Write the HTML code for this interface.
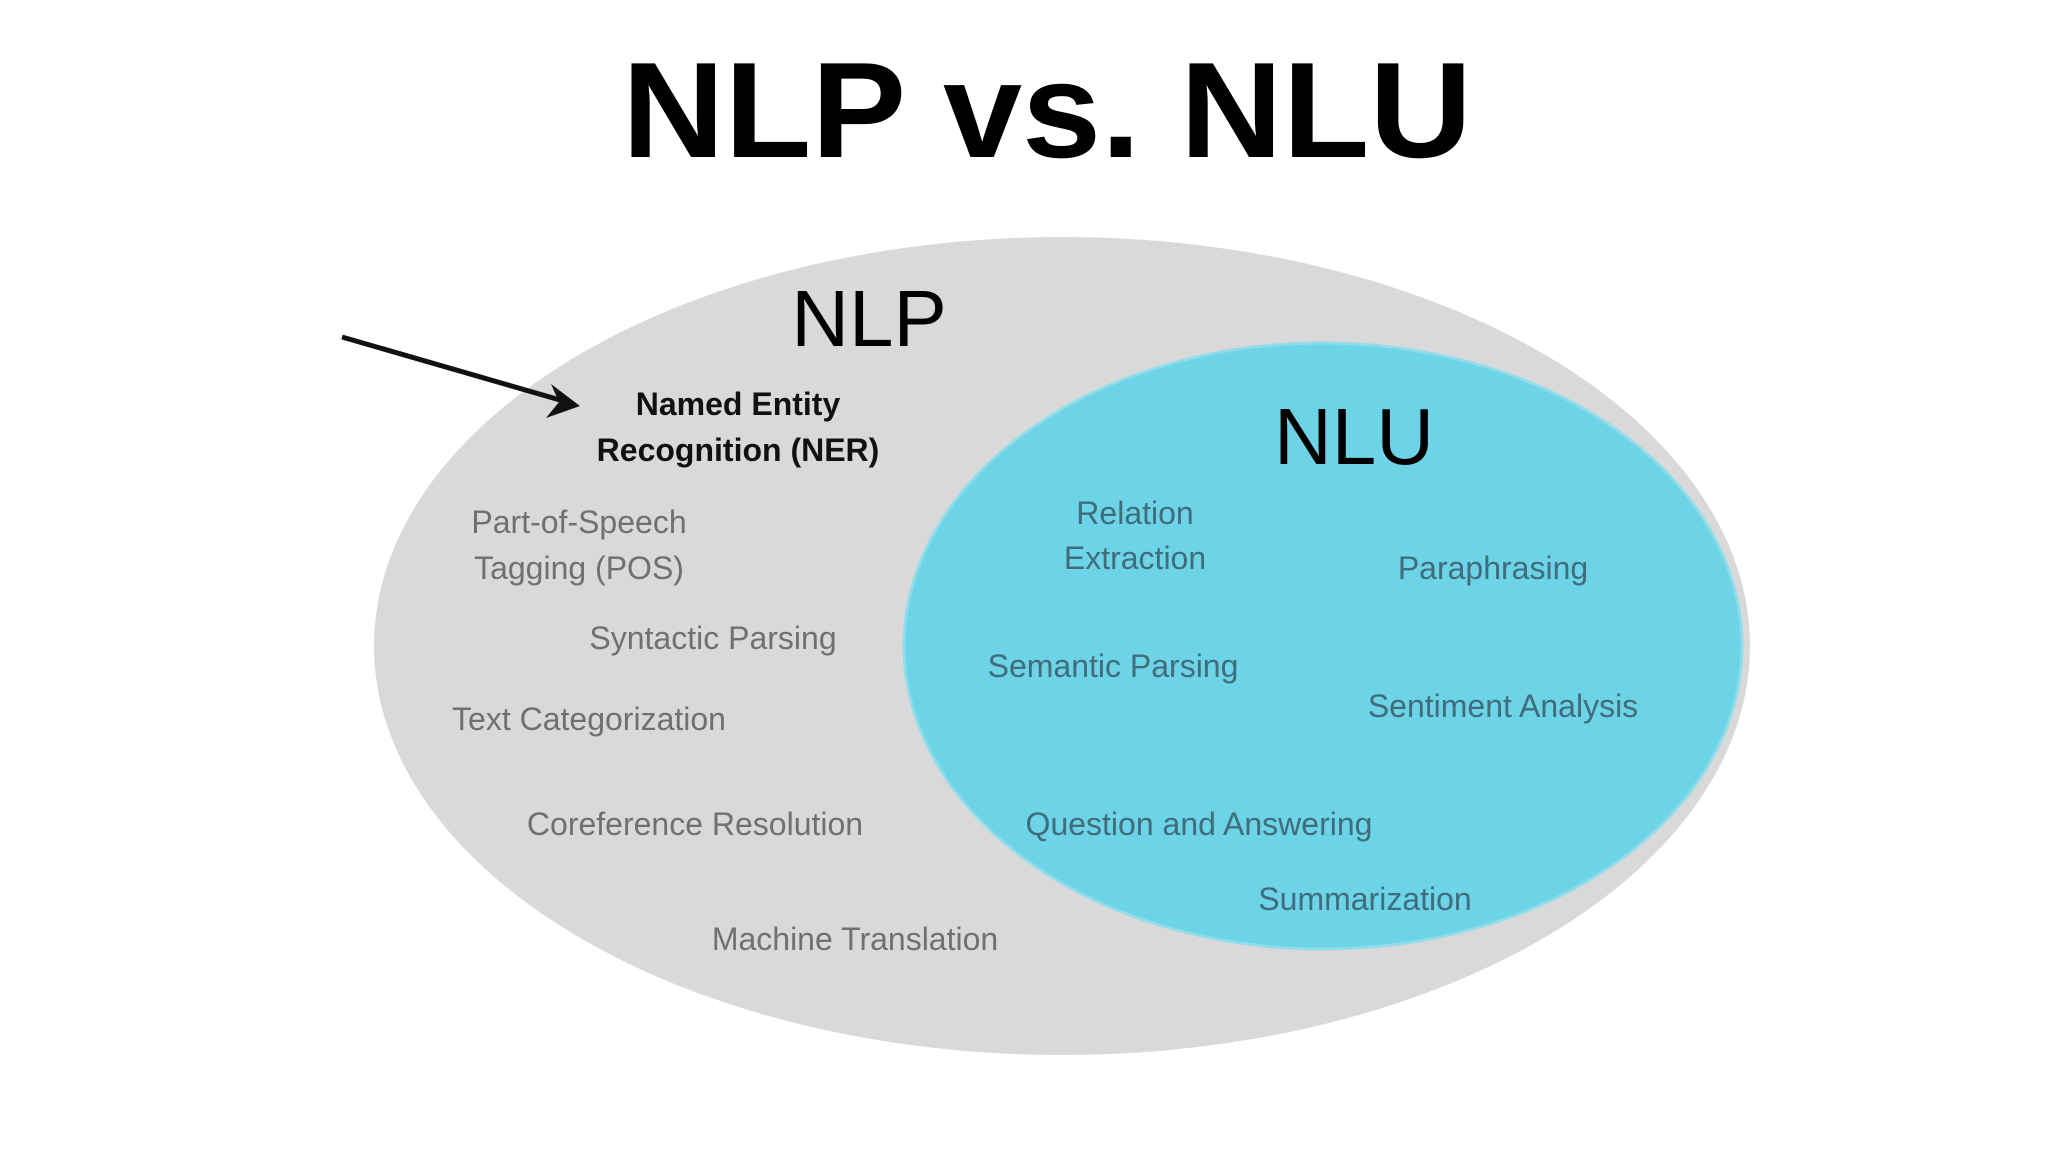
<!DOCTYPE html>
<html><head><style>html,body{margin:0;padding:0;background:#fff}</style></head><body>
<svg width="2048" height="1152" xmlns="http://www.w3.org/2000/svg" font-family="Liberation Sans, sans-serif">
<rect width="2048" height="1152" fill="#fff"/>
<text x="1047" y="157" font-size="136" font-weight="bold" text-anchor="middle" fill="#000" textLength="850" lengthAdjust="spacingAndGlyphs">NLP vs. NLU</text>
<ellipse cx="1062" cy="646" rx="688" ry="409" fill="#d9d9d9"/>
<ellipse cx="1323" cy="646" rx="419" ry="303" fill="#6dd3e6" stroke="#8fdcea" stroke-width="3"/>
<text x="869" y="346" font-size="80" text-anchor="middle" fill="#000">NLP</text>
<text x="1354" y="464" font-size="80" text-anchor="middle" fill="#000">NLU</text>
<line x1="342" y1="337" x2="560" y2="400" stroke="#111" stroke-width="5"/>
<polygon points="580,406 551,384 559,402 546,418" fill="#111"/>
<g font-size="32" text-anchor="middle">
<g font-weight="bold" fill="#111"><text x="738" y="415">Named Entity</text><text x="738" y="461">Recognition (NER)</text></g>
<g fill="#707070">
<text x="579" y="533">Part-of-Speech</text><text x="579" y="579">Tagging (POS)</text>
<text x="713" y="649">Syntactic Parsing</text>
<text x="589" y="730">Text Categorization</text>
<text x="695" y="835">Coreference Resolution</text>
<text x="855" y="950">Machine Translation</text>
</g>
<g fill="#3f6d7c">
<text x="1135" y="524">Relation</text><text x="1135" y="569">Extraction</text>
<text x="1493" y="579">Paraphrasing</text>
<text x="1113" y="677">Semantic Parsing</text>
<text x="1503" y="717">Sentiment Analysis</text>
<text x="1199" y="835">Question and Answering</text>
<text x="1365" y="910">Summarization</text>
</g></g>
</svg>
</body></html>
